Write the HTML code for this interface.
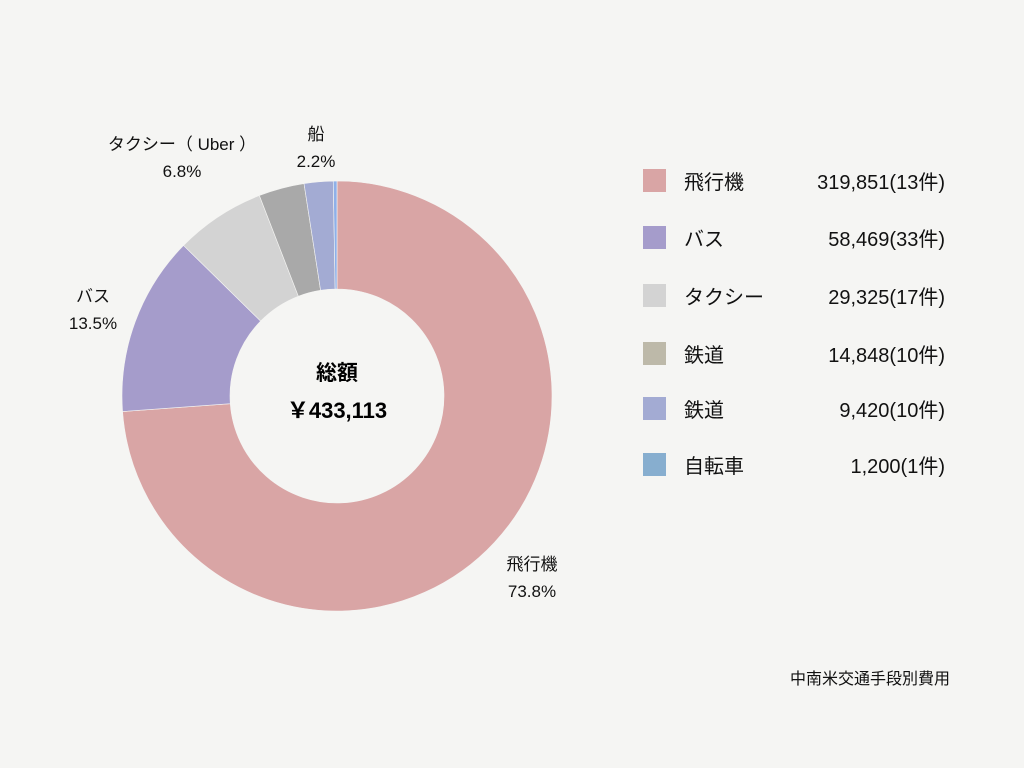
<!DOCTYPE html>
<html><head><meta charset="utf-8"><style>
body{margin:0;background:#f5f5f3;font-family:"Liberation Sans","Noto Sans CJK JP",sans-serif;color:#111}
#wrap{position:relative;width:1024px;height:768px;overflow:hidden}
svg text{font-family:"Liberation Sans","Noto Sans CJK JP",sans-serif}
</style></head><body>
<div id="wrap">
<svg id="chart" width="1024" height="768"></svg>
</div>
<script>
const categories = ["飛行機","バス","タクシー","鉄道","鉄道","自転車"];
const values = [319851,58469,29325,14848,9420,1200];
const counts = [13,33,17,10,10,1];
const sliceColors = ["#d9a5a5","#a59ccb","#d3d3d3","#a9a9a9","#a3abd3","#8fb0e8"];
const legendColors = ["#d9a5a5","#a59ccb","#d3d3d3","#bdb9a9","#a3abd3","#87aecf"];
const sliceLabels = ["飛行機","バス","タクシー（ Uber ）","鉄道","船",""];
const showLabel = [true,true,true,false,true,false];

const NS="http://www.w3.org/2000/svg";
const svg=document.getElementById('chart');
const cx=337, cy=396, R=215, r=107;
const total=values.reduce((a,b)=>a+b,0);
function mk(t,attrs,txt){const e=document.createElementNS(NS,t);for(const k in attrs)e.setAttribute(k,attrs[k]);if(txt!==undefined)e.textContent=txt;svg.appendChild(e);return e;}
function pt(a,rad){return [cx+rad*Math.sin(a), cy-rad*Math.cos(a)];}
let acc=0;
values.forEach((v,i)=>{
  const a0=acc/total*2*Math.PI; acc+=v; const a1=acc/total*2*Math.PI;
  const large=(a1-a0)>Math.PI?1:0;
  const p0=pt(a0,R),p1=pt(a1,R),q1=pt(a1,r),q0=pt(a0,r);
  const d=`M${p0[0]},${p0[1]} A${R},${R} 0 ${large} 1 ${p1[0]},${p1[1]} L${q1[0]},${q1[1]} A${r},${r} 0 ${large} 0 ${q0[0]},${q0[1]} Z`;
  const p=mk('path',{d:d,fill:sliceColors[i],stroke:'#f5f5f3','stroke-width':0.6});
  
  
  if(showLabel[i]){
    const am=(a0+a1)/2; const lp=pt(am,R+22);
    let anchor='middle';
    if(Math.sin(am)>0.3)anchor='start'; else if(Math.sin(am)<-0.3)anchor='end';
    let lx=lp[0], ly=lp[1];
    if(i===0){lx=532;ly=570;anchor='middle';}
    if(i===1){lx=93;ly=302;anchor='middle';}
    if(i===2){lx=182;ly=150;anchor='middle';}
    if(i===4){lx=316;ly=140;anchor='middle';}
    const t1=mk('text',{x:lx,y:ly,'text-anchor':anchor,'font-size':17,fill:'#111'},sliceLabels[i]);
    
    
    const t2=mk('text',{x:lx,y:ly+27,'text-anchor':anchor,'font-size':17,fill:'#111'},(v/total*100).toFixed(1)+'%');
    
    
  }
});
const c1=mk('text',{x:cx,y:380,'text-anchor':'middle','font-size':21,'font-weight':'bold'},'総額');


const c2=mk('text',{x:cx,y:418,'text-anchor':'middle','font-size':22,'font-weight':'bold'},'￥'+total.toLocaleString('en-US'));


const rows=[181,238,296,354,409,465];
categories.forEach((c,i)=>{
  const y=rows[i];
  const s=mk('rect',{x:643,y:y-12,width:23,height:23,fill:legendColors[i]});
  
  
  const t=mk('text',{x:684,y:y+8,'font-size':20,fill:'#111'},c);
  
  
  const vt=mk('text',{x:945,y:y+8,'text-anchor':'end','font-size':20,fill:'#111'},values[i].toLocaleString('en-US')+'('+counts[i]+'件)');
  
  
});
const cap=mk('text',{x:950,y:684,'text-anchor':'end','font-size':16,fill:'#111'},'中南米交通手段別費用');


</script>
</body></html>
